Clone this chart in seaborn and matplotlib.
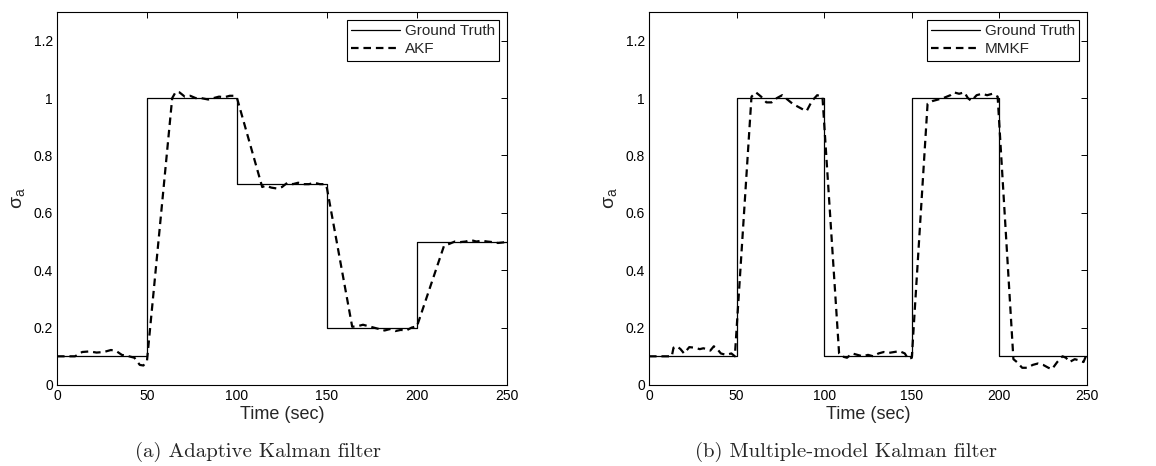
import matplotlib
matplotlib.use("Agg")
import matplotlib.pyplot as plt
import seaborn as sns
import numpy as np
from matplotlib.ticker import FuncFormatter

# ---------------- data ----------------
gt_time = [0, 50, 100, 150, 200, 250]
gt_akf = [0.1, 1.0, 0.7, 0.2, 0.5, 0.5]
gt_mmkf = [0.1, 1.0, 0.1, 1.0, 0.1, 0.1]

akf_time = [0, 10, 14, 18, 22, 26, 30, 33, 36, 40, 43, 46, 48, 50,
            64, 66, 68, 71, 74, 77, 80, 84, 87, 90, 93, 96, 99, 100,
            114, 116, 119, 122, 125, 128, 131, 134, 137, 140, 143, 146, 149, 150,
            164, 167, 170, 173, 176, 179, 182, 185, 188, 191, 194, 197, 200,
            215, 218, 221, 224, 227, 230, 233, 236, 239, 242, 245, 248, 250]
akf_vals = [0.1, 0.1, 0.115, 0.117, 0.113, 0.115, 0.122, 0.118, 0.105, 0.1, 0.095, 0.07, 0.068, 0.085,
            1.0, 1.022, 1.02, 1.005, 1.008, 1.0, 1.0, 0.995, 1.0, 1.005, 1.003, 1.008, 1.008, 1.0,
            0.69, 0.695, 0.688, 0.685, 0.69, 0.705, 0.7, 0.705, 0.7, 0.7, 0.705, 0.7, 0.7, 0.685,
            0.203, 0.205, 0.21, 0.205, 0.2, 0.195, 0.19, 0.195, 0.188, 0.192, 0.19, 0.2, 0.205,
            0.485, 0.492, 0.5, 0.498, 0.5, 0.505, 0.5, 0.503, 0.5, 0.498, 0.495, 0.497, 0.5]

mmkf_time = [0, 13, 14, 16, 18, 20, 23, 26, 29, 31, 33, 35, 37, 39, 41, 44, 47, 49,
             58.5, 61, 64, 67, 70, 73, 76, 79, 82, 85, 88, 90, 93, 96, 99,
             108.5, 110, 113, 116, 119, 122, 125, 128, 131, 134, 137, 140, 143, 146, 148, 150,
             159, 162, 165, 168, 170, 172, 174, 177, 180, 182, 184, 187, 190, 193, 196, 199,
             208, 210, 213, 216, 219, 222, 225, 228, 230, 233, 236, 238, 240, 243, 246, 248, 250]
mmkf_vals = [0.1, 0.1, 0.13, 0.135, 0.125, 0.11, 0.132, 0.13, 0.125, 0.128, 0.125, 0.12, 0.135, 0.125, 0.11, 0.105, 0.11, 0.1,
             1.005, 1.02, 1.005, 0.985, 0.985, 1.0, 1.01, 0.995, 0.98, 0.97, 0.96, 0.955, 0.99, 1.01, 1.005,
             0.11, 0.1, 0.095, 0.11, 0.105, 0.1, 0.105, 0.1, 0.11, 0.115, 0.112, 0.115, 0.118, 0.11, 0.09, 0.095,
             0.98, 0.99, 0.995, 1.0, 1.005, 1.01, 1.02, 1.015, 1.02, 1.0, 0.99, 1.01, 1.015, 1.01, 1.015, 1.005,
             0.09, 0.08, 0.06, 0.06, 0.07, 0.075, 0.07, 0.06, 0.055, 0.08, 0.1, 0.095, 0.08, 0.09, 0.085, 0.08, 0.11]

x_ticks = [0, 50, 100, 150, 200, 250]
y_ticks = [0, 0.2, 0.4, 0.6, 0.8, 1.0, 1.2]
est_labels = ["AKF", "MMKF"]
captions = ["(a) Adaptive Kalman filter", "(b) Multiple-model Kalman filter"]

# ---------------- style ----------------
sns.set_theme(style="white")
plt.rcParams['font.family'] = ['Liberation Sans', 'DejaVu Sans']
plt.rcParams['mathtext.fontset'] = 'custom'
plt.rcParams['mathtext.rm'] = 'Liberation Sans'
plt.rcParams['mathtext.it'] = 'Liberation Sans'

fig = plt.figure(figsize=(11.56, 4.66), dpi=100)
ax_a = fig.add_axes([57/1156, 81/466, 450/1156, 373/466])
ax_b = fig.add_axes([649/1156, 81/466, 438/1156, 373/466])

panels = [
    (ax_a, gt_akf, akf_time, akf_vals, est_labels[0], captions[0], 258),
    (ax_b, gt_mmkf, mmkf_time, mmkf_vals, est_labels[1], captions[1], 846),
]

for ax, gt, et, ev, lab, cap, cx in panels:
    sns.lineplot(x=gt_time, y=gt, ax=ax, color='black', linewidth=0.9,
                 drawstyle='steps-post', label='Ground Truth', sort=False)
    sns.lineplot(x=et, y=ev, ax=ax, color='black', linewidth=1.6,
                 label=lab, sort=False, dashes=False)
    ax.lines[-1].set_dashes((3.4, 2.2))
    ax.set_xlim(0, 250)
    ax.set_ylim(0, 1.3)
    ax.set_xticks(x_ticks)
    ax.set_yticks(y_ticks)
    ax.yaxis.set_major_formatter(FuncFormatter(lambda v, p: f"{v:g}"))
    ax.tick_params(direction='in', length=4, width=0.7, top=True, right=True,
                   labelsize=10, colors='black', pad=3)
    for s in ax.spines.values():
        s.set_visible(True)
        s.set_color('black')
        s.set_linewidth(0.8)
    ax.set_xlabel('Time (sec)', fontsize=13, labelpad=2)
    ax.set_ylabel(r'$\sigma_a$', fontsize=14, labelpad=5)
    leg = ax.legend(loc='upper right', fontsize=11, frameon=True, fancybox=False,
                    edgecolor='black', framealpha=1, handlelength=3.2,
                    borderaxespad=0.5, borderpad=0.3, labelspacing=0.25,
                    handletextpad=0.3)
    leg.get_frame().set_linewidth(0.8)
    fig.text(cx/1156, 1 - 452/466, cap, ha='center', va='center',
             fontsize=15, family='cmr10')

fig.savefig('out.png', dpi=100)
